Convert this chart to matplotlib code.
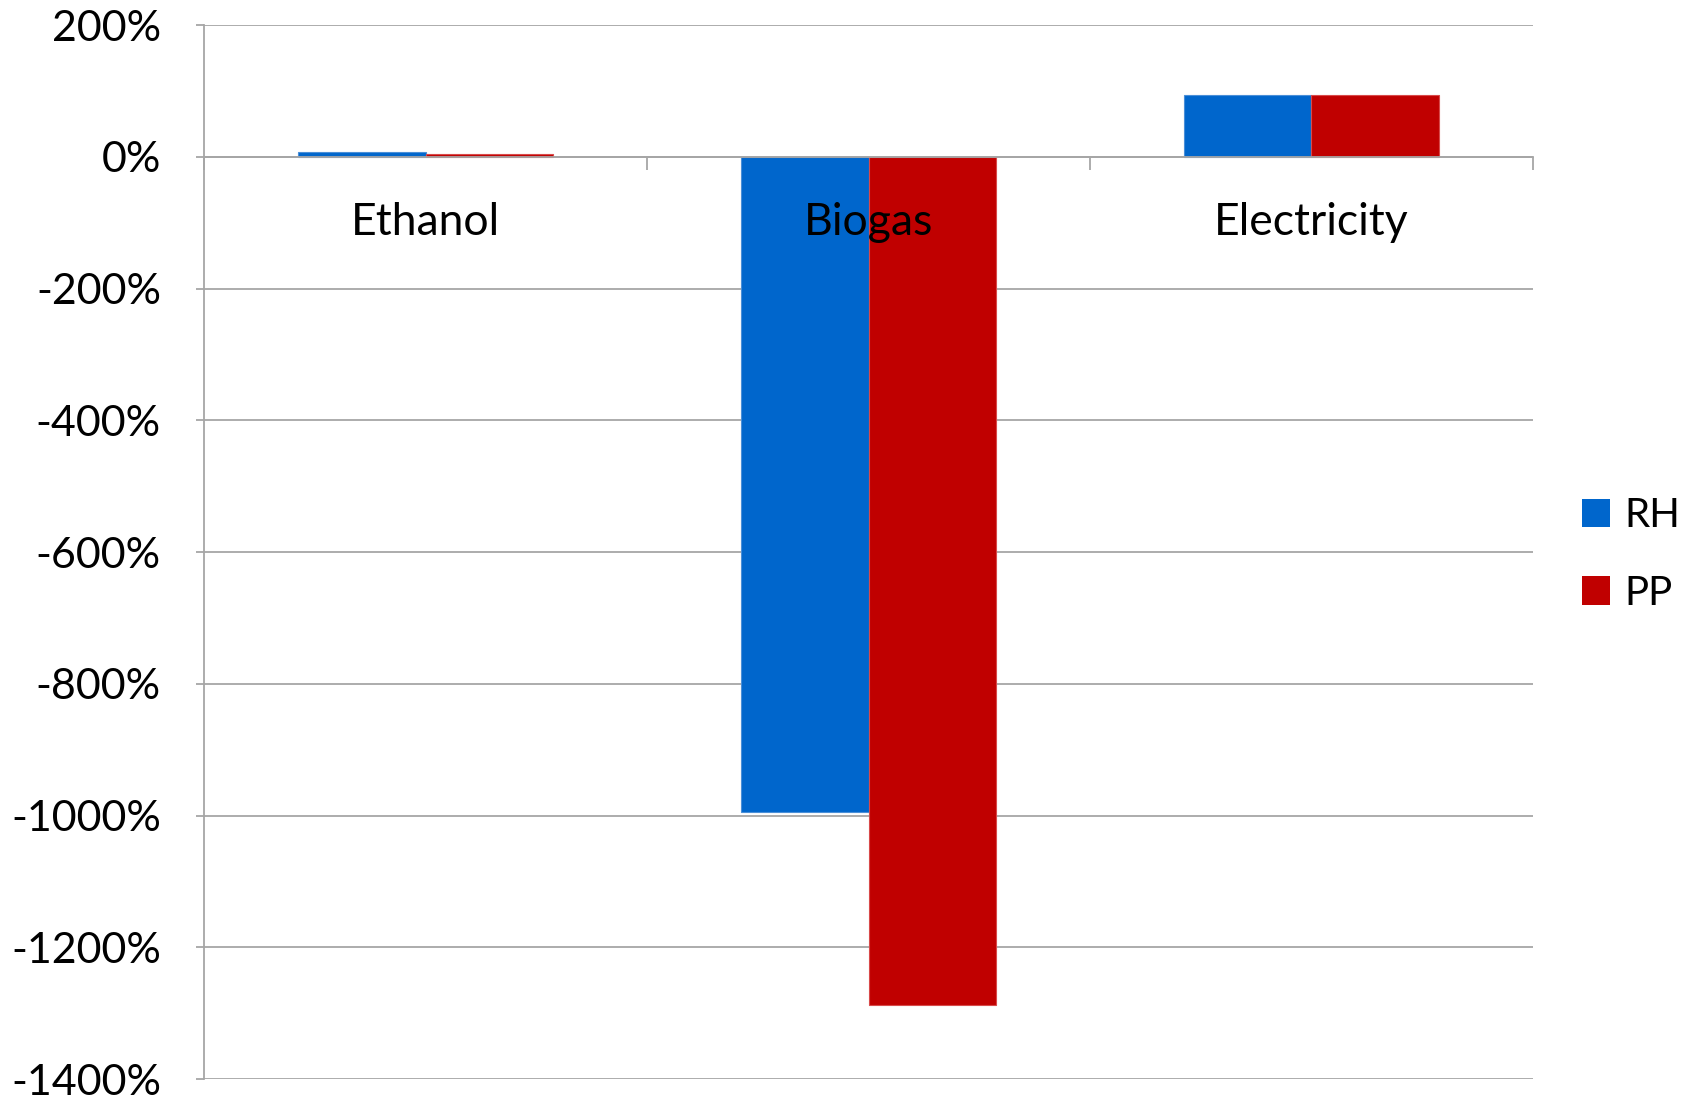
import numpy as np
import matplotlib
matplotlib.use('Agg')
import matplotlib.pyplot as plt
from matplotlib.patches import Patch

plt.rcParams['font.family'] = ['Lato', 'DejaVu Sans']

# data (percent)
categories = ['Ethanol', 'Biogas', 'Electricity']
rh_values = [8, -994, 94]
pp_values = [4, -1287, 94]
series_names = ['RH', 'PP']
colors = ['#0066CC', '#C00000']
yticks = [200, 0, -200, -400, -600, -800, -1000, -1200, -1400]
ytick_labels = ['200%', '0%', '-200%', '-400%', '-600%', '-800%', '-1000%', '-1200%', '-1400%']

fig = plt.figure(figsize=(16.82, 10.98), dpi=100)
ax = fig.add_axes([0.1213, 0.0173, 0.9114 - 0.1213, 0.9772 - 0.0173])

x = np.arange(len(categories))
w = 0.287
ax.bar(x - w / 2, rh_values, w, color=colors[0], edgecolor='#4a8fd8', linewidth=0.8, zorder=2)
ax.bar(x + w / 2, pp_values, w, color=colors[1], edgecolor='#d84a4a', linewidth=0.8, zorder=2)

ax.set_ylim(-1400, 200)
ax.set_xlim(-0.5, 2.5)
ax.set_yticks(yticks)
ax.set_yticklabels(ytick_labels, fontsize=31)
ax.yaxis.grid(True, color='#a6a6a6', linewidth=1.3, zorder=0)
ax.set_axisbelow(True)
ax.tick_params(axis='y', length=6, color='#a6a6a6', width=1.3, pad=25)

# category axis at zero with ticks between groups
ax.spines['bottom'].set_position(('data', 0))
ax.spines['bottom'].set_color('#a6a6a6')
ax.spines['bottom'].set_linewidth(1.3)
ax.spines['bottom'].set_zorder(3)
ax.set_xticks([-0.5, 0.5, 1.5, 2.5])
ax.set_xticklabels([])
ax.tick_params(axis='x', length=9, color='#a6a6a6', width=1.3, direction='out')
ax.spines['left'].set_color('#a6a6a6')
ax.spines['left'].set_linewidth(1.3)
ax.spines['top'].set_visible(False)
ax.spines['right'].set_visible(False)

for i, cat in enumerate(categories):
    ax.annotate(cat, (i, 0), xytext=(0, -47), textcoords='offset points',
                ha='center', va='center', fontsize=32, zorder=5)

handles = [Patch(facecolor=c, edgecolor='none') for c in colors]
fig.legend(handles, series_names, loc='center left', bbox_to_anchor=(0.9405, 0.495),
           frameon=False, fontsize=29, handlelength=0.7, handleheight=0.7,
           handletextpad=0.35, labelspacing=1.0, borderpad=0, borderaxespad=0)

fig.savefig('out.png', dpi=100)
